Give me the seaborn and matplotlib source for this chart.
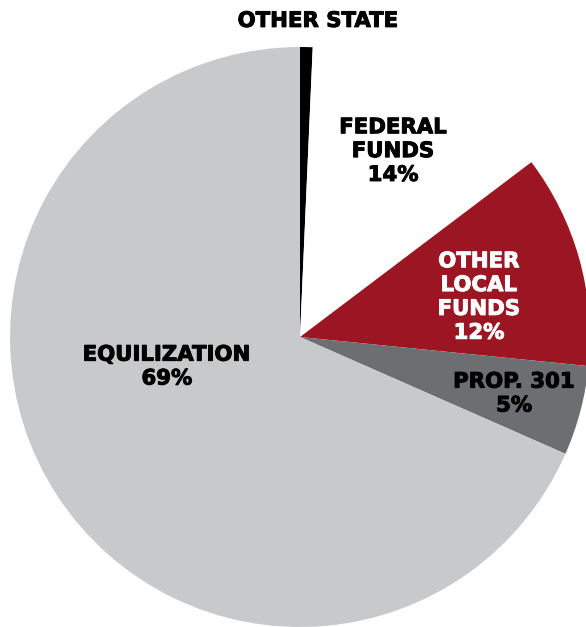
import matplotlib
matplotlib.use("Agg")
import matplotlib.pyplot as plt
import matplotlib.patheffects as pe
import seaborn as sns

# funding sources (percent of total)
sources = ["OTHER STATE", "FEDERAL FUNDS", "OTHER LOCAL FUNDS", "PROP. 301", "EQUILIZATION"]
shares = [0.7, 14.0, 11.9, 5.0, 68.4]
pct_labels = ["", "14%", "12%", "5%", "69%"]
colors = ["#000000", "#ffffff", "#9b1622", "#6d6e71", "#c8c9cb"]

sns.set_theme(style="white")
plt.rcParams['font.family'] = ['DejaVu Sans']

fig = plt.figure(figsize=(5.86, 6.27), dpi=100)
# pie center at (300, 337) px from top-left, radius 290 px
ax = fig.add_axes([10 / 586, 0 / 627, 580 / 586, 580 / 627])
ax.pie(shares, colors=colors, startangle=90, counterclock=False,
       wedgeprops={'linewidth': 0}, radius=1)
ax.set_xlim(-1, 1)
ax.set_ylim(-1, 1)
ax.set_aspect('equal')
ax.axis('off')

def label(x, y, s, col):
    # slight stroke to make the bold face look heavier, like the original
    ax.text(x, y, s, color=col, fontsize=15.3, fontweight='bold', ha='center',
            va='center', linespacing=1.24, clip_on=False,
            path_effects=[pe.withStroke(linewidth=0.7, foreground=col)])

label(0.062, 1.09, sources[0], 'black')
label(0.321, 0.641, "FEDERAL\nFUNDS\n" + pct_labels[1], 'black')
label(0.617, 0.138, "OTHER\nLOCAL\nFUNDS\n" + pct_labels[2], 'white')
label(0.738, -0.195, sources[3] + "\n" + pct_labels[3], 'black')
label(-0.459, -0.102, sources[4] + "\n" + pct_labels[4], 'black')

fig.savefig("out.png", dpi=100)
